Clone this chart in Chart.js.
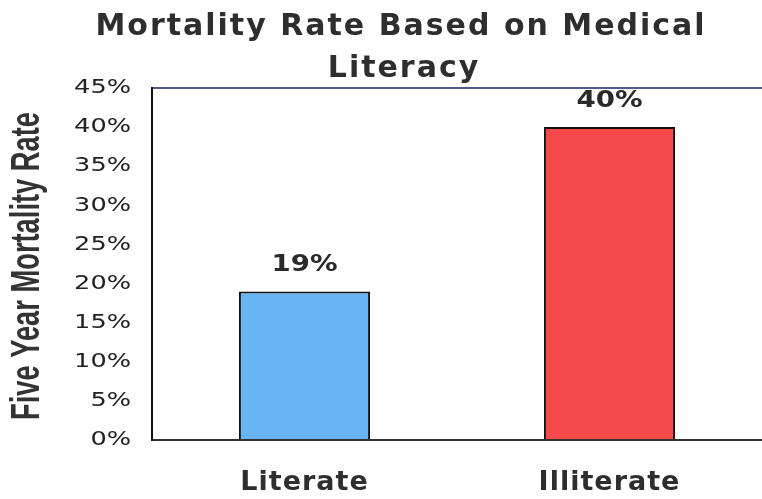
<!DOCTYPE html>
<html>
<head>
<meta charset="utf-8">
<script src="https://cdn.jsdelivr.net/npm/chart.js@4.4.0/dist/chart.umd.min.js"></script>
<style>
  html, body { margin: 0; padding: 0; background: #fff; }
  #wrap { width: 762px; height: 499px; }
</style>
</head>
<body>
<div id="wrap"><canvas id="chart" width="762" height="499"></canvas></div>
<script>
// Chart data
const titleLines = ["Mortality Rate Based on Medical", "Literacy"];
const yAxisTitle = "Five Year Mortality Rate";
const categories = ["Literate", "Illiterate"];
const mortalityRates = [19, 40];
const barColors = ["#68b4f4", "#f54a4a"];
const yTicks = [0, 5, 10, 15, 20, 25, 30, 35, 40, 45];

// The scan is stretched sideways, so most text is drawn a bit wider than normal
const textPlugin = {
  id: "scanText",
  afterDraw(chart) {
    const ctx = chart.ctx;
    const xScale = chart.scales.x;
    const yScale = chart.scales.y;

    // Title, two lines
    ctx.save();
    ctx.fillStyle = "#2e2e2e";
    ctx.font = 'bold 30px "DejaVu Sans"';
    ctx.textAlign = "center";
    ctx.textBaseline = "alphabetic";
    ctx.letterSpacing = "2px";
    ctx.fillText(titleLines[0], 401, 35);
    ctx.fillText(titleLines[1], 404, 77);
    ctx.restore();

    // Y tick labels
    yTicks.forEach(v => {
      const y = yScale.getPixelForValue(v);
      ctx.save();
      ctx.translate(131, y);
      ctx.scale(1.28, 1);
      ctx.fillStyle = "#222";
      ctx.font = '20px "DejaVu Sans"';
      ctx.textAlign = "right";
      ctx.textBaseline = "middle";
      ctx.fillText(v + "%", 0, 0);
      ctx.restore();
    });

    // Y axis title, narrow bold, rotated
    ctx.save();
    ctx.translate(28, 266);
    ctx.rotate(-Math.PI / 2);
    ctx.font = 'bold 33px "Liberation Sans Narrow", "Liberation Sans"';
    const w = ctx.measureText(yAxisTitle).width;
    ctx.scale(308 / w, 1.25);
    ctx.fillStyle = "#333";
    ctx.textAlign = "center";
    ctx.textBaseline = "middle";
    ctx.fillText(yAxisTitle, 0, 0);
    ctx.restore();

    // Category labels under the bars
    categories.forEach((c, i) => {
      ctx.save();
      ctx.fillStyle = "#2e2e2e";
      ctx.font = 'bold 27px "DejaVu Sans"';
      ctx.letterSpacing = "1px";
      ctx.textAlign = "center";
      ctx.textBaseline = "alphabetic";
      ctx.fillText(c, xScale.getPixelForValue(i), 490);
      ctx.restore();
    });

    // Value labels above the bars
    const meta = chart.getDatasetMeta(0);
    meta.data.forEach((bar, i) => {
      ctx.save();
      ctx.translate(bar.x, bar.y - 20);
      ctx.scale(1.2, 1);
      ctx.fillStyle = "#2a2a2a";
      ctx.font = 'bold 23px "DejaVu Sans"';
      ctx.textAlign = "center";
      ctx.textBaseline = "alphabetic";
      ctx.fillText(mortalityRates[i] + "%", 0, 0);
      ctx.restore();
    });
  }
};

new Chart(document.getElementById("chart").getContext("2d"), {
  type: "bar",
  data: {
    labels: categories,
    datasets: [{
      data: mortalityRates,
      backgroundColor: barColors,
      borderColor: "#111",
      borderWidth: 2,
      barPercentage: 0.43,
      categoryPercentage: 1
    }]
  },
  options: {
    responsive: false,
    animation: false,
    layout: { padding: { top: 88, bottom: 59, left: 0, right: 0 } },
    plugins: {
      legend: { display: false },
      tooltip: { enabled: false },
      title: { display: false }
    },
    scales: {
      x: {
        grid: { display: false },
        ticks: { display: false },
        border: { color: "#333", width: 2 },
        afterFit: s => { s.height = 0; }
      },
      y: {
        min: 0,
        max: 45,
        ticks: { display: false, stepSize: 5 },
        grid: {
          drawTicks: false,
          lineWidth: 2,
          // only the 45% line is visible, as a frame along the top
          color: c => (c.tick && c.tick.value === 45 ? "#55598a" : "rgba(0,0,0,0)")
        },
        border: { color: "#111", width: 2 },
        afterFit: s => { s.width = 152; }
      }
    }
  },
  plugins: [textPlugin]
});
</script>
</body>
</html>
